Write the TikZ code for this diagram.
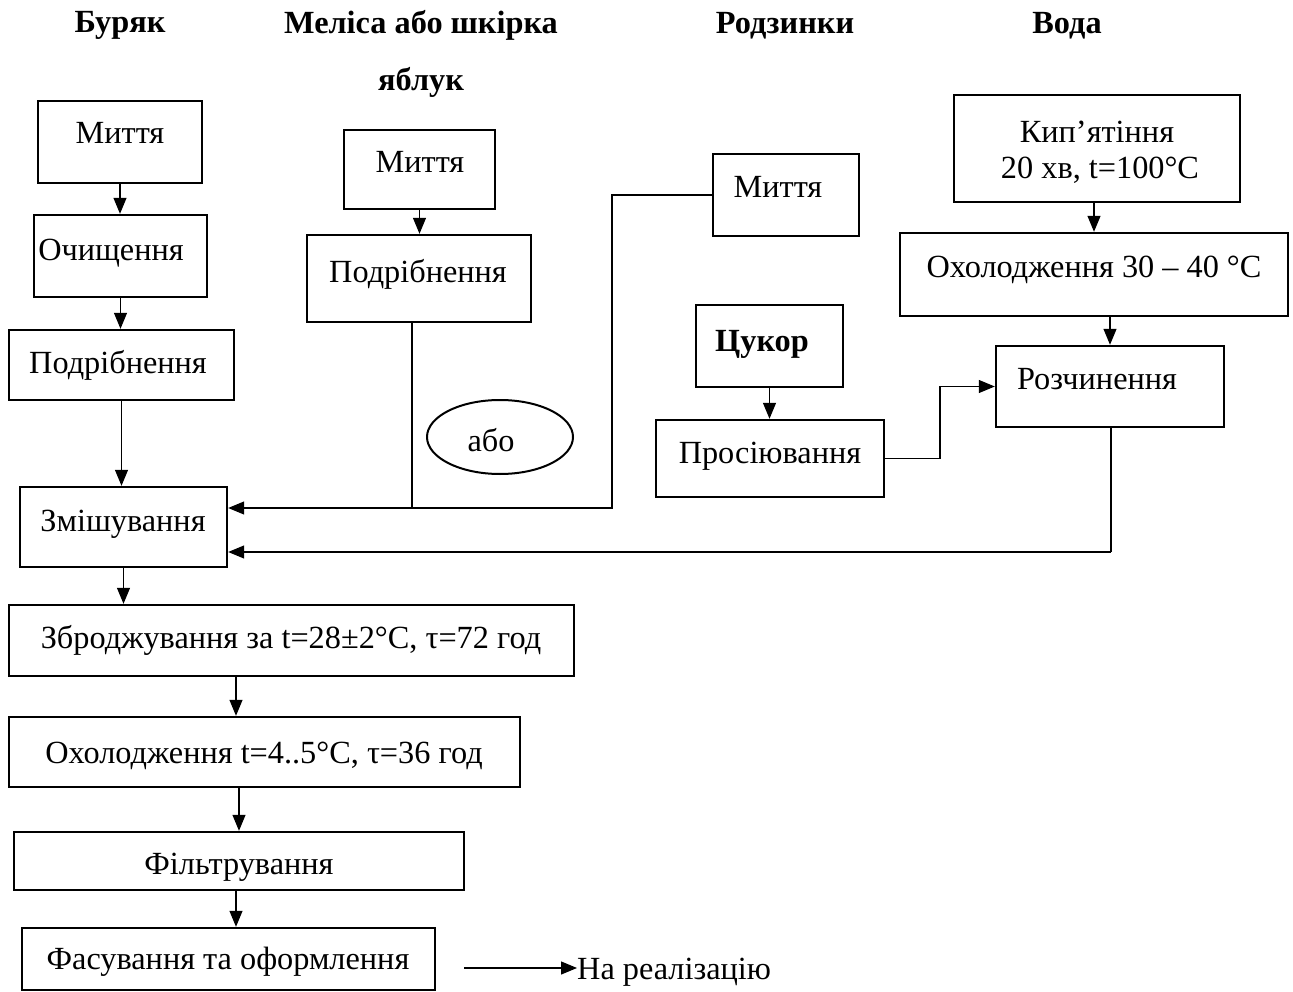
\documentclass[tikz,border=0pt]{standalone}
\usepackage{fontspec}
\setmainfont{Liberation Serif}
\usetikzlibrary{arrows.meta,shapes.geometric}
\tikzset{
  box/.style={draw, line width=2.4pt, rectangle, inner sep=0pt},
  oval/.style={draw, line width=2pt, ellipse, inner sep=0pt},
  txt/.style={inner sep=0pt, text height=22pt, text depth=0pt, font=\fontsize{32.3}{38}\selectfont},
  hdr/.style={txt, font=\fontsize{32.3}{38}\selectfont\bfseries},
  conn/.style={line width=1.2pt},
  arr/.style={conn, -{Triangle[length=16pt,width=13pt]}},
}
\begin{document}
\begin{tikzpicture}[x=1pt,y=-1pt]
\useasboundingbox (0,0) rectangle (1293,992);
% headers
\node[hdr] (h1) at (120,22) {Буряк};
\node[hdr] (h2) at (421,23) {Меліса або шкірка};
\node[hdr] (h3) at (421,80) {яблук};
\node[hdr] (h4) at (785,23) {Родзинки};
\node[hdr] (h5) at (1067,23) {Вода};
% left column boxes
\node[box, minimum width=164, minimum height=82] (b1) at (120,142) {};
\node[box, minimum width=173, minimum height=82] (b2) at (120.5,256) {};
\node[box, minimum width=225, minimum height=70] (b3) at (121.5,365) {};
\node[box, minimum width=207, minimum height=80] (b4) at (123.5,527) {};
\node[box, minimum width=565, minimum height=71] (b5) at (291.5,640.5) {};
\node[box, minimum width=511, minimum height=70] (b6) at (264.5,752) {};
\node[box, minimum width=450, minimum height=58] (b7) at (239,861) {};
\node[box, minimum width=413, minimum height=62] (b8) at (228.5,959) {};
\node[txt] (tb1) at (120,133) {Миття};
\node[txt] (tb2) at (111,250) {Очищення};
\node[txt] (tb3) at (118,362) {Подрібнення};
\node[txt] (tb4) at (123,520) {Змішування};
\node[txt] (tb5) at (291,637) {Зброджування за t=28±2°C, τ=72 год};
\node[txt] (tb6) at (264,752) {Охолодження t=4..5°C, τ=36 год};
\node[txt] (tb7) at (239,863) {Фільтрування};
\node[txt] (tb8) at (228,958) {Фасування та оформлення};
% melissa column
\node[box, minimum width=151, minimum height=79] (m1) at (419.5,169.5) {};
\node[box, minimum width=224, minimum height=87] (m2) at (419,278.5) {};
\node[txt] (tm1) at (420,162) {Миття};
\node[txt] (tm2) at (418,272) {Подрібнення};
\node[oval, minimum width=146, minimum height=74] (or) at (500,437) {};
\node[txt] (tor) at (491,440) {або};
% raisins / sugar
\node[box, minimum width=146, minimum height=82] (r1) at (786,195) {};
\node[txt] (tr1) at (778,187) {Миття};
\node[box, minimum width=147, minimum height=82] (s1) at (769.5,346) {};
\node[hdr] (ts1) at (762,340) {Цукор};
\node[box, minimum width=228, minimum height=77] (s2) at (770,458.5) {};
\node[txt] (ts2) at (770,452) {Просіювання};
% water column
\node[box, minimum width=286, minimum height=107] (v1) at (1097,148.5) {};
\node[txt] (tv1a) at (1097,132) {Кип’ятіння};
\node[txt] (tv1b) at (1100,168) {20 хв, t=100°C};
\node[box, minimum width=388, minimum height=83] (v2) at (1094,274.5) {};
\node[txt] (tv2) at (1094,267) {Охолодження 30 – 40 °C};
\node[box, minimum width=228, minimum height=81] (v3) at (1110,386.5) {};
\node[txt] (tv3) at (1097,378) {Розчинення};
% output
\node[txt, anchor=west] (real) at (577,968) {На реалізацію};
\coordinate (rs) at (464,968);
% helper coordinates
\coordinate (k56) at (236,0);
\coordinate (k67) at (239,0);
\coordinate (k78) at (236,0);
\coordinate (kv) at (1094,0);
\coordinate (j1) at (412,508);
\coordinate (j2) at (612,508);
\coordinate (j3) at (940,0);
\coordinate (j4) at (1111,552);
% connectors
\draw[arr] (b1.south) -- (b1.south |- b2.north);
\draw[arr] (b2.south) -- (b2.south |- b3.north);
\draw[arr] (b3.south) -- (b3.south |- b4.north);
\draw[arr] (b4.south) -- (b4.south |- b5.north);
\draw[arr] (k56 |- b5.south) -- (k56 |- b6.north);
\draw[arr] (k67 |- b6.south) -- (k67 |- b7.north);
\draw[arr] (k78 |- b7.south) -- (k78 |- b8.north);
\draw[arr] (rs) -- (real.west);
\draw[arr] (m1.south) -- (m1.south |- m2.north);
\draw[conn] (m2.south -| j1) -- (j1);
\draw[arr] (j1) -- (j1 -| b4.east);
\draw[conn] (r1.west) -| (j2) -- (j1);
\draw[arr] (s1.south) -- (s1.south |- s2.north);
\draw[arr] (s2.east) -- (j3 |- s2.east) -- (j3 |- v3.west) -- (v3.west);
\draw[arr] (kv |- v1.south) -- (kv |- v2.north);
\draw[arr] (v2.south -| v3.north) -- (v3.north);
\draw[conn] (v3.south -| j4) -- (j4);
\draw[arr] (j4) -- (j4 -| b4.east);
\end{tikzpicture}
\end{document}
